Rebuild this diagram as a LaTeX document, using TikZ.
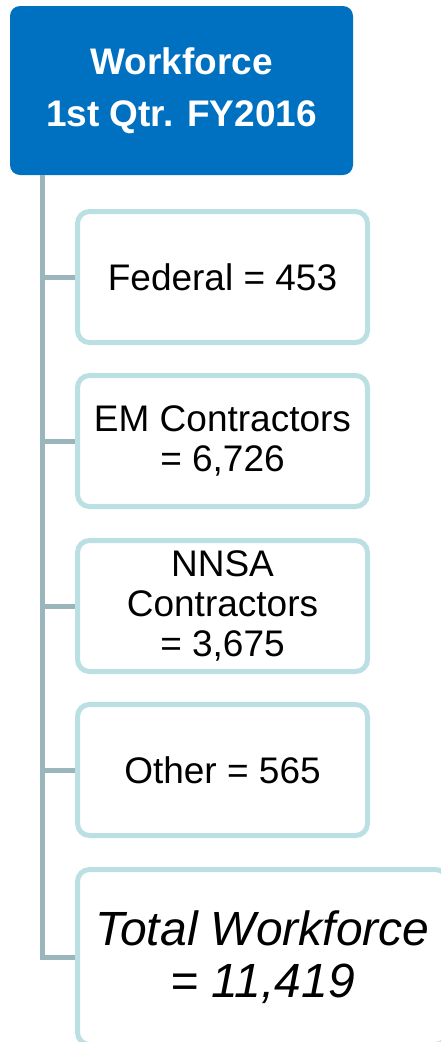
\documentclass[tikz,border=0pt]{standalone}
\usepackage{fontspec}
\setmainfont{Liberation Sans}
\definecolor{headblue}{HTML}{0070C0}
\definecolor{trunkgray}{HTML}{9BB6BB}
\definecolor{boxedge}{HTML}{BBE0E4}
\begin{document}
\begin{tikzpicture}[x=1pt,y=1pt,
  headbox/.style={rectangle,rounded corners=10pt,fill=headblue,text=white,
    font=\bfseries\fontsize{37}{52}\selectfont,align=center,
    minimum width=343pt,minimum height=169pt,inner sep=0pt},
  itembox/.style={rectangle,rounded corners=12pt,draw=boxedge,line width=5pt,
    fill=white,font=\fontsize{37}{40}\selectfont,align=center,
    minimum width=290pt,minimum height=131pt,inner sep=0pt},
  link/.style={draw=trunkgray,line width=5pt}]
\useasboundingbox (0,0) rectangle (440,-1042);
\node[headbox] (head) at (181.5,-90.5) {Workforce\\1st Qtr. FY2016};
\node[itembox] (fed) at (222.5,-277) {Federal = 453};
\node[itembox] (em) at (222.5,-441) {EM Contractors\\= 6,726};
\node[itembox] (nnsa) at (222.5,-606) {NNSA\\Contractors\\= 3,675};
\node[itembox] (other) at (222.5,-770) {Other = 565};
\node[itembox,minimum width=370pt,minimum height=175pt,
  font=\itshape\fontsize{48}{52}\selectfont] (total) at (262.5,-957) {Total Workforce\\= 11,419};
\coordinate (trunk) at (42.5,-175);
\draw[link] (trunk) |- (total.west);
\foreach \n in {fed,em,nnsa,other}
  \draw[link] (trunk |- \n.west) -- (\n.west);
\end{tikzpicture}
\end{document}
